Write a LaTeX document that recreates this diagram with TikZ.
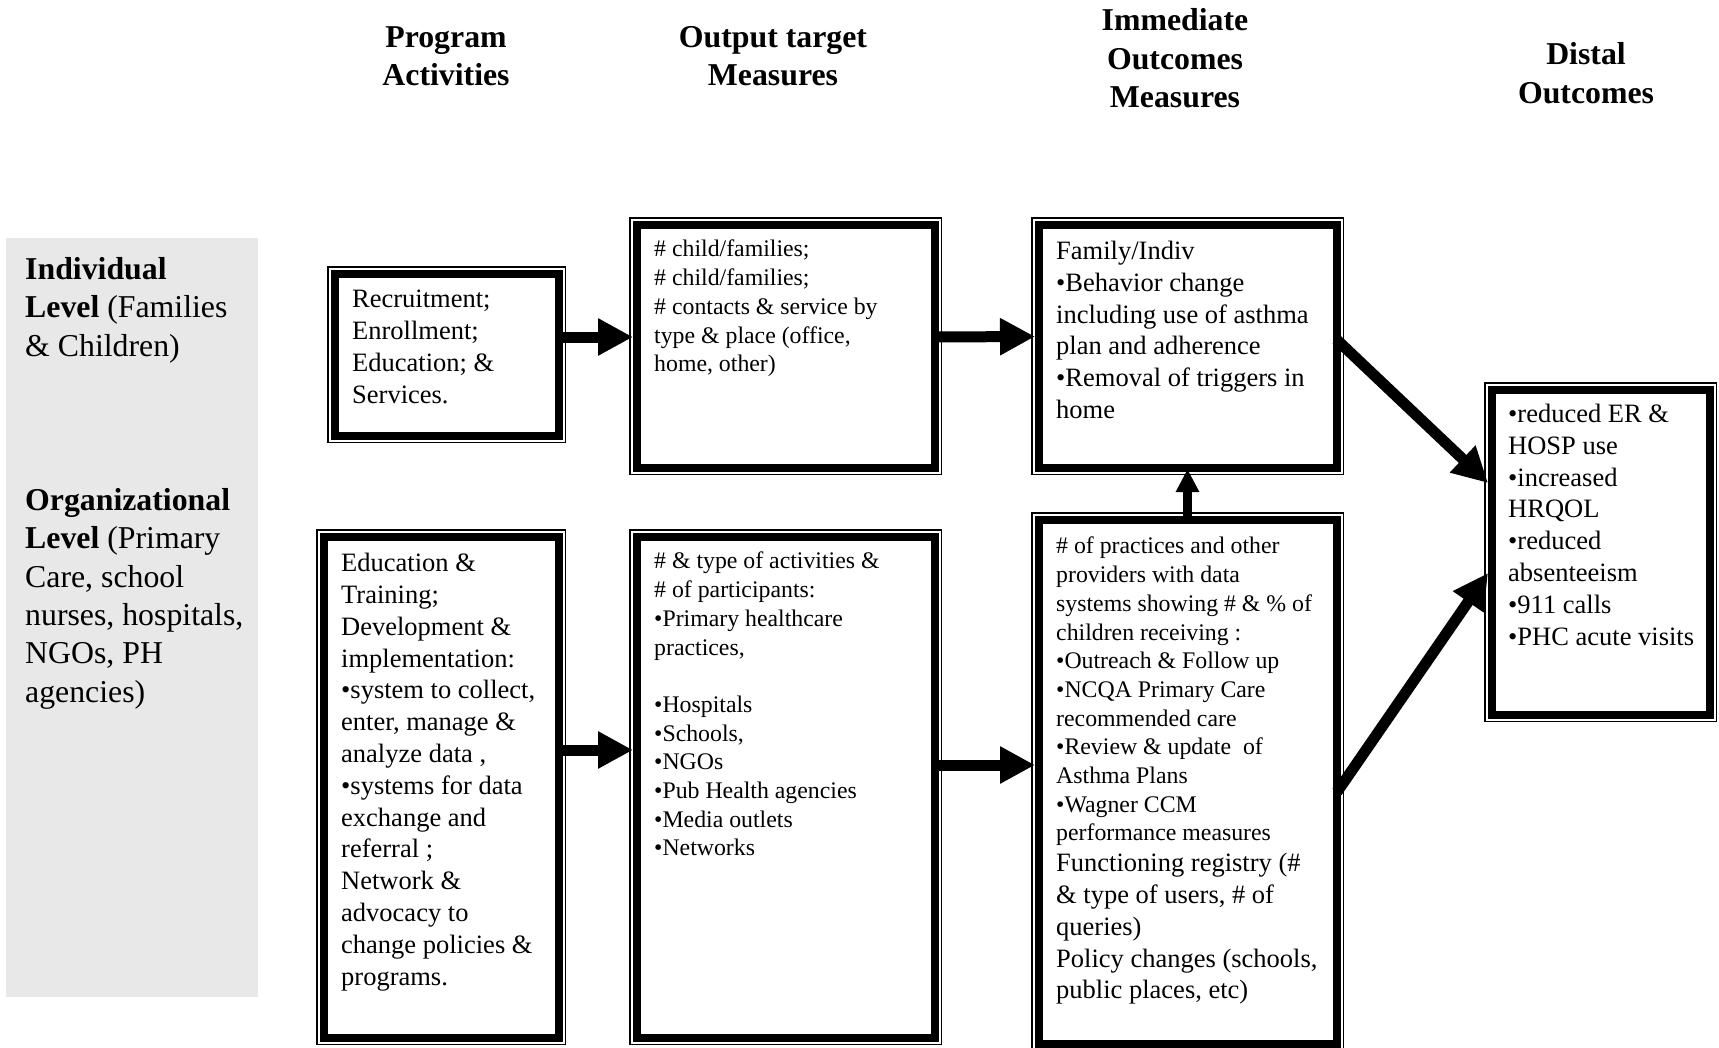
\documentclass[tikz,border=0pt]{standalone}
\usepackage{fontspec}
\setmainfont{Liberation Serif}
\usetikzlibrary{arrows.meta}
\definecolor{panelgray}{RGB}{232,232,232}
\tikzset{
  boxnode/.style={draw=none, inner sep=0pt, outer sep=0pt, anchor=north west},
  thinframe/.style={line width=1.5pt},
  thickframe/.style={line width=8pt},
  bigtxt/.style={anchor=north west, inner sep=0pt, align=left, font=\fontsize{26.5}{31.8}\selectfont},
  smalltxt/.style={anchor=north west, inner sep=0pt, align=left, font=\fontsize{23.8}{28.7}\selectfont},
  headtxt/.style={anchor=north, inner sep=0pt, align=center, font=\fontsize{31.8}{38.4}\selectfont\bfseries},
  lbltxt/.style={anchor=north west, inner sep=0pt, align=left, font=\fontsize{31.8}{38.4}\selectfont},
  bigarr/.style={line width=11pt, -{Triangle[length=35pt,width=35pt]}},
  smallarr/.style={line width=9pt, -{Triangle[length=23pt,width=22pt]}},
}
\newcommand\mydblframe[1]{%
  \draw[thinframe] ([shift={(0.75pt,-0.75pt)}]#1.north west) rectangle ([shift={(-0.75pt,0.75pt)}]#1.south east);
  \draw[thickframe] ([shift={(7.5pt,-7.5pt)}]#1.north west) rectangle ([shift={(-7.5pt,7.5pt)}]#1.south east);}
\begin{document}
\begin{tikzpicture}[x=1pt,y=-1pt]
\useasboundingbox (0,0) rectangle (1719,1047);
% left panel
\fill[panelgray] (5.5,238) rectangle (257.6,996.5);
\node[lbltxt] (indiv) at (25,257) {\textbf{Individual}\\ \textbf{Level} (Families\\ \& Children)};
\node[lbltxt] (org) at (25,488) {\textbf{Organizational}\\ \textbf{Level} (Primary\\ Care, school\\ nurses, hospitals,\\ NGOs, PH\\ agencies)};
% headers
\node[headtxt] (h1) at (446,26) {Program\\ Activities};
\node[headtxt] (h2) at (773,26) {Output target\\ Measures};
\node[headtxt] (h3) at (1175,8.5) {Immediate\\ Outcomes\\ Measures};
\node[headtxt] (h4) at (1586,42.5) {Distal\\ Outcomes};
% boxes
\node[boxnode, minimum width=239pt, minimum height=177pt] (a) at (327,266) {};
\node[boxnode, minimum width=313pt, minimum height=258pt] (b) at (629,217) {};
\node[boxnode, minimum width=313pt, minimum height=258pt] (c) at (1031,217) {};
\node[boxnode, minimum width=233pt, minimum height=340pt] (d) at (1484,382) {};
\node[boxnode, minimum width=250pt, minimum height=516pt] (e) at (316,529) {};
\node[boxnode, minimum width=313pt, minimum height=516pt] (f) at (629,529) {};
\node[boxnode, minimum width=313pt, minimum height=539pt] (g) at (1031,512) {};
\mydblframe{a}\mydblframe{b}\mydblframe{c}\mydblframe{d}\mydblframe{e}\mydblframe{f}\mydblframe{g}
% texts
\node[bigtxt] (at) at (352,290) {Recruitment;\\ Enrollment;\\ Education; \&\\ Services.};
\node[smalltxt] (bt) at (654,240) {\# child/families;\\ \# child/families;\\ \# contacts \& service by\\ type \& place (office,\\ home, other)};
\node[bigtxt] (ct) at (1056,241) {Family/Indiv\\ •Behavior change\\ including use of asthma\\ plan and adherence\\ •Removal of triggers in\\ home};
\node[bigtxt] (dt) at (1508,404) {•reduced ER \&\\ HOSP use\\ •increased\\ HRQOL\\ •reduced\\ absenteeism\\ •911 calls\\ •PHC acute visits};
\node[bigtxt] (et) at (341,553) {Education \&\\ Training;\\ Development \&\\ implementation:\\ •system to collect,\\ enter, manage \&\\ analyze data ,\\ •systems for data\\ exchange and\\ referral ;\\ Network \&\\ advocacy to\\ change policies \&\\ programs.};
\node[smalltxt] (ft) at (654,552) {\# \& type of activities \&\\ \# of participants:\\ •Primary healthcare\\ practices,\\ \mbox{}\\ •Hospitals\\ •Schools,\\ •NGOs\\ •Pub Health agencies\\ •Media outlets\\ •Networks};
\node[smalltxt] (gt1) at (1056,537) {\# of practices and other\\ providers with data\\ systems showing \# \& \% of\\ children receiving :\\ •Outreach \& Follow up\\ •NCQA Primary Care\\ recommended care\\ •Review \& update~ of\\ Asthma Plans\\ •Wagner CCM\\ performance measures};
\node[bigtxt] (gt2) at (1056,853) {Functioning registry (\#\\ \& type of users, \# of\\ queries)\\ Policy changes (schools,\\ public places, etc)};
% arrows
\draw[bigarr] ([shift={(-7.5pt,17.5pt)}]a.east) -- ([shift={(4pt,9pt)}]b.west);
\draw[bigarr] ([shift={(-7.5pt,9pt)}]b.east) -- ([shift={(4pt,9.5pt)}]c.west);
\draw[bigarr] ([shift={(-7.5pt,37pt)}]e.east) -- ([shift={(4pt,37pt)}]f.west);
\draw[bigarr] ([shift={(-7.5pt,22pt)}]f.east) -- ([shift={(4pt,16.5pt)}]g.west);
\draw[smallarr] ([yshift=-7.5pt]g.north) -- ([yshift=6pt]c.south);
\draw[bigarr] ([shift={(-7.5pt,6.5pt)}]c.east) -- ([shift={(4pt,69pt)}]d.west);
\draw[bigarr] ([shift={(-7pt,-10.5pt)}]g.east) -- ([shift={(4pt,-21pt)}]d.west);
\end{tikzpicture}
\end{document}
